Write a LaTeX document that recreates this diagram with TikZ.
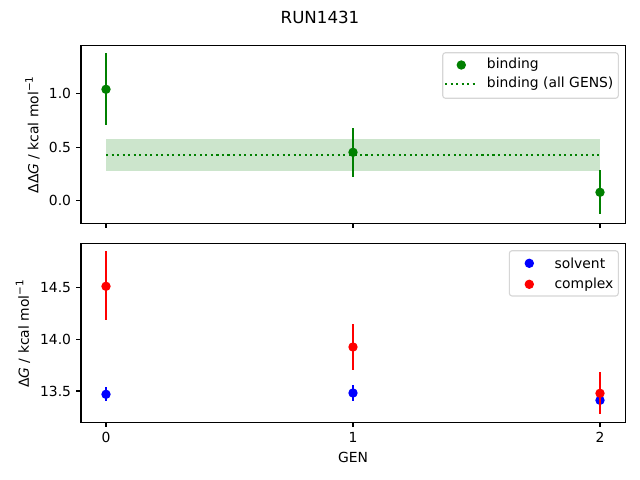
\documentclass[tikz,border=0pt]{standalone}
\usepackage{fontspec}
\setmainfont{DejaVu Sans}
\newfontfamily\obl{DejaVu Sans Oblique}
\newcommand{\molinv}{mol\raisebox{4pt}{\fontsize{7.5}{9}\selectfont −1}}
\begin{document}
\begin{tikzpicture}[x=0.72pt,y=-0.72pt,
  spine/.style={line width=0.8pt,black},
  tickmark/.style={line width=0.8pt,black},
  ticklbl/.style={inner sep=0pt,font=\fontsize{10}{12}\selectfont},
  axlbl/.style={inner sep=0pt,font=\fontsize{10}{12}\selectfont},
  errbar/.style={line width=1.5pt},
  legbox/.style={draw=black!20,fill=white,fill opacity=0.8,draw opacity=0.8,rounded corners=2pt,line width=0.8pt},
  legtxt/.style={inner sep=0pt,anchor=west,font=\fontsize{10}{12}\selectfont}]
\definecolor{mplgreen}{HTML}{008000}
\definecolor{mplblue}{HTML}{0000FF}
\definecolor{mplred}{HTML}{FF0000}
\def\mr{4.7}
\useasboundingbox (0,0) rectangle (640,480);
\fill[white] (0,0) rectangle (640,480);
% title
\node[inner sep=0pt,font=\fontsize{12}{14}\selectfont] (title) at (320,17) {RUN1431};
% ---------- top axes ----------
\fill[mplgreen,opacity=0.2] (106,139) rectangle (600,170.7);
\draw[mplgreen,line width=1.5pt,dash pattern=on 1.5pt off 2.475pt] (106,155) -- (600,155);
\draw[errbar,mplgreen] (106,53.3) -- (106,124.7);
\fill[mplgreen] (106,89.3) circle (\mr);
\draw[errbar,mplgreen] (353,128.3) -- (353,176.7);
\fill[mplgreen] (353,152.3) circle (\mr);
\draw[errbar,mplgreen] (600,170.3) -- (600,214.3);
\fill[mplgreen] (600,192.3) circle (\mr);
\draw[spine] (81,45.3) rectangle (625.7,223.3);
\foreach \x in {106,353,600} \draw[tickmark] (\x,223.3) -- ++(0,4.86);
\foreach \y/\t in {93.3/1.0,147.3/0.5,200.7/0.0} {
  \draw[tickmark] (81,\y) -- ++(-4.86,0);
  \node[ticklbl,anchor=east] at (71.3,\y) {\t};
}
\node[axlbl,rotate=90] (ylabA) at (32.5,135) {ΔΔ{\obl G} / kcal \molinv};
\draw[legbox] (442.7,52.7) rectangle (618.3,98.3);
\fill[mplgreen] (461.3,65) circle (\mr);
\node[legtxt] (legA1) at (486.7,65) {binding};
\draw[mplgreen,line width=1.5pt,dash pattern=on 1.5pt off 2.475pt] (445,84) -- (475,84);
\node[legtxt] (legA2) at (486.7,84) {binding (all GENS)};
% ---------- bottom axes ----------
\draw[errbar,mplblue] (106,387) -- (106,400.7);
\fill[mplblue] (106,394.3) circle (\mr);
\draw[errbar,mplblue] (353,385) -- (353,400.7);
\fill[mplblue] (353,393) circle (\mr);
\draw[errbar,mplblue] (600,393) -- (600,408);
\fill[mplblue] (600,400.3) circle (\mr);
\draw[errbar,mplred] (106,251) -- (106,320);
\fill[mplred] (106,286.3) circle (\mr);
\draw[errbar,mplred] (353,324) -- (353,370);
\fill[mplred] (353,347) circle (\mr);
\draw[errbar,mplred] (600,372) -- (600,413.7);
\fill[mplred] (600,393.3) circle (\mr);
\draw[spine] (81,243.3) rectangle (625.7,422.3);
\foreach \x/\t in {106/0,353/1,600/2} {
  \draw[tickmark] (\x,422.3) -- ++(0,4.86);
  \node[ticklbl] at (\x,437.2) {\t};
}
\foreach \y/\t in {287.3/14.5,339.3/14.0,391/13.5} {
  \draw[tickmark] (81,\y) -- ++(-4.86,0);
  \node[ticklbl,anchor=east] at (71.3,\y) {\t};
}
\node[axlbl,rotate=90] (ylabB) at (23,334) {Δ{\obl G} / kcal \molinv};
\node[axlbl] (xlab) at (353,457) {GEN};
\draw[legbox] (509.3,250.7) rectangle (618.3,296);
\fill[mplblue] (529.3,263.3) circle (\mr);
\node[legtxt] (legB1) at (554.3,263.3) {solvent};
\fill[mplred] (529.3,284.3) circle (\mr);
\node[legtxt] (legB2) at (554.3,284.3) {complex};
\end{tikzpicture}
\end{document}
